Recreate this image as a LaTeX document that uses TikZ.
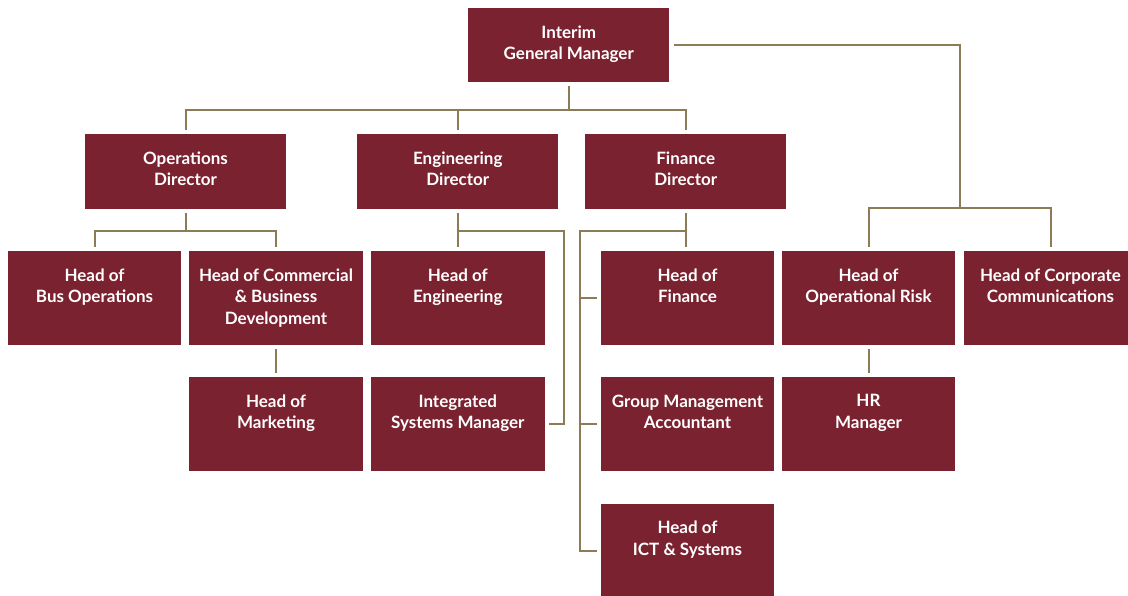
\documentclass[tikz,border=0pt]{standalone}
\usepackage{fontspec}
\setmainfont{Lato}
\begin{document}
\begin{tikzpicture}[x=1pt,y=-1pt,
  boxfill/.style={fill=orgred, draw=none, inner sep=0pt},
  topbox/.style={boxfill, minimum width=201pt, minimum height=74pt},
  dirbox/.style={boxfill, minimum width=201pt, minimum height=75pt},
  unitbox/.style={boxfill, minimum width=173.5pt, minimum height=94pt},
  caption/.style={text=white, inner sep=0pt, align=center, anchor=north,
    font=\fontsize{17}{21.4}\selectfont\bfseries, execute at begin node=\strut},
  conn/.style={draw=orgline, line width=2pt, line join=miter},
  gap/.style={shorten <=4pt, shorten >=4pt},
  gapend/.style={shorten >=4pt},
  gapstart/.style={shorten <=4pt}]
\definecolor{orgred}{HTML}{7B2230}
\definecolor{orgline}{HTML}{8B7B56}
\useasboundingbox (0,0) rectangle (1128,596);

% --- boxes ---
\node[topbox] (gm) at (568.8,45) {};
\node[dirbox] (ops) at (185.5,171.5) {};
\node[dirbox] (engd) at (457.8,171.5) {};
\node[dirbox] (fd) at (685.8,171.5) {};

\node[unitbox] (bus) at (94.5,298) {};
\node[unitbox] (com) at (276,298) {};
\node[unitbox] (heng) at (457.8,298) {};
\node[unitbox] (hfin) at (687.5,298) {};
\node[unitbox] (risk) at (868.5,298) {};
\node[unitbox] (corp) at (1050.5,298) {};

\node[unitbox] (mkt) at (276,424) {};
\node[unitbox] (isys) at (457.8,424) {};
\node[unitbox] (gma) at (687.5,424) {};
\node[unitbox] (hr) at (868.5,424) {};

\node[unitbox] (ict) at (687.5,550.7) {};

% --- captions ---
\node[caption] (gm-t) at ([yshift=-17.6pt]gm.north) {Interim\\General Manager};
\node[caption] (ops-t) at ([yshift=-17.6pt]ops.north) {Operations\\Director};
\node[caption] (engd-t) at ([yshift=-17.6pt]engd.north) {Engineering\\Director};
\node[caption] (fd-t) at ([yshift=-17.6pt]fd.north) {Finance\\Director};
\node[caption] (bus-t) at ([yshift=-17.6pt]bus.north) {Head of\\Bus Operations};
\node[caption] (com-t) at ([yshift=-17.6pt]com.north) {Head of Commercial\\\& Business\\Development};
\node[caption] (heng-t) at ([yshift=-17.6pt]heng.north) {Head of\\Engineering};
\node[caption] (hfin-t) at ([yshift=-17.6pt]hfin.north) {Head of\\Finance};
\node[caption] (risk-t) at ([yshift=-17.6pt]risk.north) {Head of\\Operational Risk};
\node[caption] (corp-t) at ([yshift=-17.6pt]corp.north) {Head of Corporate\\Communications};
\node[caption] (mkt-t) at ([yshift=-17.6pt]mkt.north) {Head of\\Marketing};
\node[caption] (isys-t) at ([yshift=-17.6pt]isys.north) {Integrated\\Systems Manager};
\node[caption] (gma-t) at ([yshift=-17.6pt]gma.north) {Group Management\\Accountant};
\node[caption] (hr-t) at ([yshift=-17.6pt]hr.north) {HR\\Manager};
\node[caption] (ict-t) at ([yshift=-17.6pt]ict.north) {Head of\\ICT \& Systems};

% --- junction points ---
\coordinate (jgm) at (568.8,110);
\coordinate (jside) at (960,207.7);
\coordinate (jops) at (185.5,231);
\coordinate (jeng) at (457.8,230.7);
\coordinate (jengr) at (564,230.7);
\coordinate (jfin) at (685.8,231);
\coordinate (jfinl) at (580,231);

% --- general manager to directors ---
\draw[conn, gapstart] (gm.south) -- (jgm);
\draw[conn, gap] (ops.north) |- (jgm) -| (fd.north);
\draw[conn, gapend] (jgm -| engd.north) -- (engd.north);

% --- general manager to staff heads ---
\draw[conn, gapstart] (gm.east) -| (jside);
\draw[conn, gap] (risk.north) |- (jside) -| (corp.north);
\draw[conn, gap] (risk.south) -- (hr.north);

% --- operations ---
\draw[conn, gapstart] (ops.south) -- (jops);
\draw[conn, gap] (bus.north) |- (jops) -| (com.north);
\draw[conn, gap] (com.south) -- (mkt.north);

% --- engineering ---
\draw[conn, gap] (engd.south) -- (heng.north);
\draw[conn, gapend] (jeng) -- (jengr) |- (isys.east);

% --- finance ---
\draw[conn, gap] (fd.south) -- (fd.south |- hfin.north);
\draw[conn, gapend] (jfin) -- (jfinl) |- (ict.west);
\draw[conn, gapend] (jfinl |- hfin.west) -- (hfin.west);
\draw[conn, gapend] (jfinl |- gma.west) -- (gma.west);
\end{tikzpicture}
\end{document}
